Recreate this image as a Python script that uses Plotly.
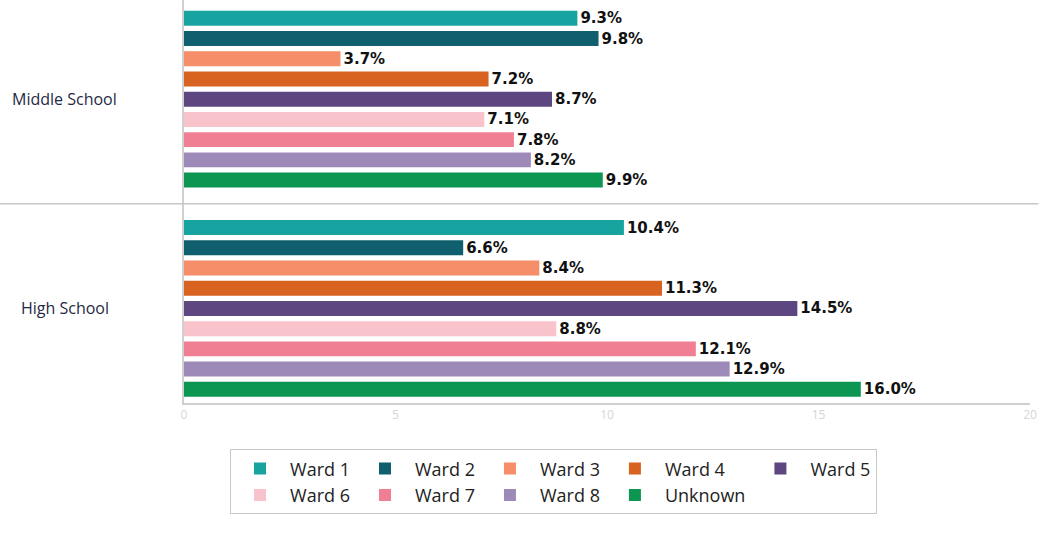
import plotly.graph_objects as go

categories = ["Middle School", "High School"]
wards = ["Ward 1", "Ward 2", "Ward 3", "Ward 4", "Ward 5", "Ward 6", "Ward 7", "Ward 8", "Unknown"]
middle_school = [9.3, 9.8, 3.7, 7.2, 8.7, 7.1, 7.8, 8.2, 9.9]
high_school = [10.4, 6.6, 8.4, 11.3, 14.5, 8.8, 12.1, 12.9, 16.0]
colors = ["#17a4a1", "#0f5f6e", "#f68e69", "#d8621f", "#5e4680",
          "#f8c3ca", "#f07f94", "#9d8ab8", "#0c9651"]
legend_columns = ["c1", "c2", "c3", "c4", "c5", "c1", "c2", "c3", "c4"]
x_ticks = [0, 5, 10, 15, 20]

fig = go.Figure()
for i, w in enumerate(wards):
    fig.add_trace(go.Bar(
        name=w,
        legendgroup=legend_columns[i],
        y=categories,
        x=[middle_school[i], high_school[i]],
        orientation="h",
        marker=dict(color=colors[i], line=dict(width=0)),
        text=[f"{middle_school[i]:.1f}%", f"{high_school[i]:.1f}%"],
        textposition="outside",
        constraintext="none",
        textfont=dict(family="DejaVu Sans", size=15, color="#111111", weight="bold"),
        cliponaxis=False,
    ))

for c in categories:
    fig.add_annotation(x=-0.141, xref="paper", y=c, yref="y", text=c,
                       showarrow=False, xanchor="center",
                       font=dict(family="Open Sans", size=16, color="#1f2a44"))

fig.add_shape(type="line", xref="paper", yref="y", x0=-0.218, x1=1.01, y0=0.5, y1=0.5,
              line=dict(color="#c8c8c8", width=1.5))

fig.update_layout(
    width=1046, height=559,
    margin=dict(l=184, r=16, t=0, b=156, autoexpand=False),
    paper_bgcolor="white", plot_bgcolor="white",
    barmode="group", bargap=0.13, bargroupgap=0.26,
    showlegend=True,
    legend=dict(
        orientation="h", x=0.0544, y=-0.115, xanchor="left", yanchor="top",
        font=dict(family="Open Sans", size=18, color="#222222"),
        bordercolor="#c8c8c8", borderwidth=1,
        itemwidth=50, traceorder="grouped", tracegroupgap=0, groupclick="toggleitem",
    ),
    xaxis=dict(range=[0, 20], tickvals=x_ticks, showgrid=False, zeroline=False,
               showline=True, linecolor="#d0d0d0", linewidth=1.5,
               tickfont=dict(family="Open Sans", size=12, color="#d6d6d6"), ticks=""),
    yaxis=dict(range=[1.452, -0.474], showticklabels=False, showgrid=False,
               showline=True, linecolor="#d0d0d0", linewidth=1.5, ticks=""),
)

fig.write_html("out.html", config={"displayModeBar": False},
               post_script="document.body.style.margin='0';")
